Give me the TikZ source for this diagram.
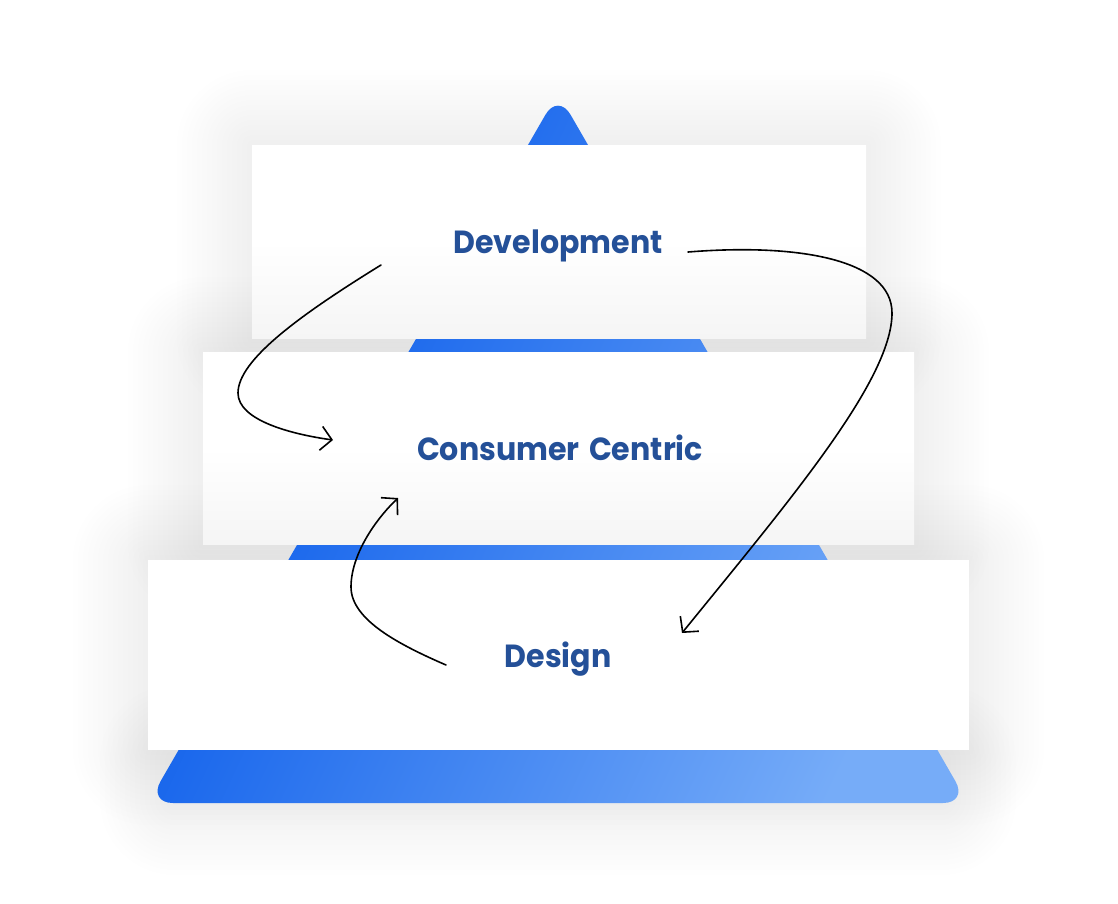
\documentclass[tikz,border=0pt]{standalone}
\usepackage{fontspec}
\setmainfont{Poppins}[FakeStretch=0.94]
\usetikzlibrary{arrows.meta}
\definecolor{txtblue}{RGB}{36,80,152}
\definecolor{blueA}{RGB}{0,84,233}
\definecolor{blueB}{RGB}{118,172,248}
\definecolor{rectbot}{RGB}{245,245,245}
\tikzset{
  label/.style={font=\fontsize{32}{40}\selectfont\bfseries, text=txtblue, inner sep=0pt, anchor=base},
  arr/.style={draw=black, line width=1.6pt, line cap=round, -{Straight Barb[length=11pt,width=24pt]}},
  panel/.style={top color=white, bottom color=rectbot, middle color=white, draw=none},
}
\newcommand{\softshadow}[4]{%
  \foreach \k in {1,...,15}{%
    \pgfmathsetmacro{\rr}{5*\k}%
    \fill[black, fill opacity=0.0028, rounded corners=\rr pt]
      (#1-\rr,#2-\rr) rectangle (#3+\rr,#4+\rr);
  }%
}
\begin{document}
\begin{tikzpicture}[x=1pt,y=-1pt]
\useasboundingbox (0,0) rectangle (1118,903);
\fill[white] (0,0) rectangle (1118,903);
% shadows
\softshadow{252}{145}{866}{338}
\softshadow{203}{352}{914}{544}
\softshadow{148}{560}{969}{750}
\softshadow{175}{760}{941}{800}
% pyramid
\shade[left color=blueA, right color=blueB, shading angle=65, rounded corners=25pt]
  (558,803) -- (148,803) -- (558,93) -- (968,803) -- cycle;
% panels
\shade[panel] (252,145) rectangle (866,338);
\shade[panel] (203,352) rectangle (914,544);
\fill[white] (148,560) rectangle (969,750);
% labels
\node[label] (dev) at (558,253) {Development};
\node[label] (cons) at (560,460) {Consumer\hspace{3pt} Centric};
\node[label] (des) at (558,667) {Design};
% arrow coordinates
\coordinate (a1s) at (381,265);
\coordinate (a1m) at (238,393);
\coordinate (a1e) at (333,440);
\coordinate (a2s) at (446,665);
\coordinate (a2m) at (351,587);
\coordinate (a2e) at (398,498);
\coordinate (a3s) at (688,252);
\coordinate (a3m) at (892,313);
\coordinate (a3e) at (682,633);
\draw[arr] (a1s) .. controls (300,315) and (238,360) .. (a1m) .. controls (238,420) and (290,434) .. (a1e);
\draw[arr] (a2s) .. controls (400,645) and (351,620) .. (a2m) .. controls (351,555) and (375,520) .. (a2e);
\draw[arr] (a3s) .. controls (800,243) and (892,260) .. (a3m) .. controls (892,380) and (790,500) .. (a3e);
\end{tikzpicture}
\end{document}
